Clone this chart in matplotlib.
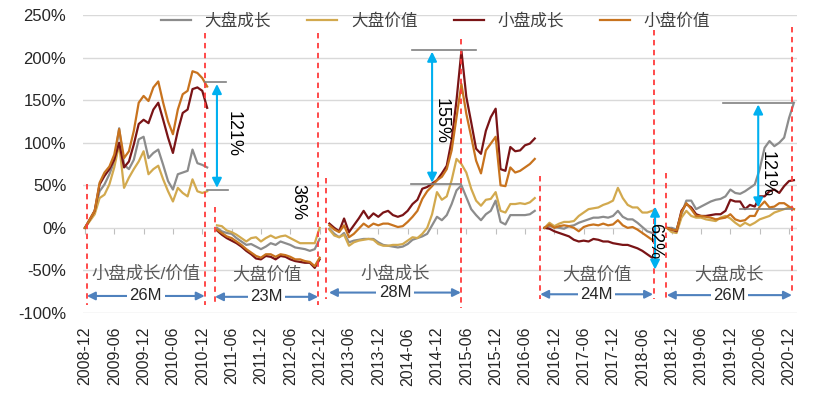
import numpy as np
import pandas as pd
import matplotlib
matplotlib.use('Agg')
import matplotlib.pyplot as plt

plt.rcParams['font.family'] = ['Liberation Sans', 'Noto Sans CJK SC']

# monthly axis, cumulative return (%) restarted in each style period
months = pd.period_range('2008-12', '2021-01', freq='M')
seg_start = ['2008-12', '2011-03', '2013-02', '2016-10', '2018-11']
seg_name = ['小盘成长/价值', '大盘价值', '小盘成长', '大盘价值', '大盘成长']
seg_len = ['26M', '23M', '28M', '24M', '26M']

series_names = ['大盘成长', '大盘价值', '小盘成长', '小盘价值']

big_growth = [
    [0, 9, 20, 43, 51, 63, 78, 117, 74, 69, 80, 104, 107, 82, 88, 92, 74, 55, 45, 63, 65, 67, 92, 76, 74, 71],
    [0, -4, -6, -7, -12, -16, -20, -19, -22, -25, -22, -18, -20, -16, -18, -20, -23, -24, -25, -27, -25, -13],
    [-1, -7, -11, -6, -17, -15, -14, -13, -13, -13, -17, -20, -21, -22, -23, -22, -19, -14, -12, -10,
     -7, 3, 13, 9, 15, 28, 44, 50, 36, 22, 15, 9, 16, 20, 32, 7, 4, 15, 15, 15, 15, 16, 20],
    [0, 2, 1, 0, -1, 2, 3, 6, 8, 10, 12, 12, 13, 12, 14, 20, 13, 10, 10, 6, 1, -4, -6],
    [0, 0, -2, 16, 32, 32, 22, 25, 28, 31, 33, 34, 37, 45, 41, 40, 43, 47, 51, 69, 94, 102, 96, 100, 106, 129, 147],
]
big_value = [
    [0, 8, 16, 35, 39, 51, 71, 98, 47, 59, 69, 78, 90, 63, 69, 73, 57, 43, 31, 47, 41, 37, 57, 43, 41, 43],
    [3, 2, -3, -5, -8, -12, -16, -12, -11, -16, -12, -9, -12, -10, -9, -12, -15, -18, -18, -18, -18, 0],
    [-2, -9, -11, -8, -21, -17, -15, -14, -13, -14, -19, -21, -21, -20, -20, -19, -15, -11, -12, -7,
     0, 16, 42, 33, 37, 56, 81, 75, 65, 46, 32, 26, 33, 34, 42, 20, 18, 28, 28, 29, 28, 30, 35],
    [0, 6, 2, 5, 7, 7, 8, 14, 18, 22, 23, 24, 27, 29, 32, 47, 35, 27, 24, 24, 18, 18, 20],
    [0, -5, -6, 12, 20, 14, 12, 12, 10, 9, 8, 12, 14, 11, 6, 2, 6, 3, 6, 10, 12, 14, 18, 20, 22, 24, 22],
]
small_growth = [
    [0, 10, 20, 51, 61, 69, 80, 100, 71, 78, 98, 122, 127, 123, 139, 147, 127, 106, 88, 114, 135, 139, 163, 165, 161, 141],
    [-3, -8, -12, -15, -18, -22, -27, -31, -36, -37, -33, -34, -37, -33, -34, -37, -39, -40, -41, -41, -47, -37],
    [5, 0, -4, 11, -5, 3, 11, 20, 11, 17, 13, 18, 20, 15, 13, 15, 20, 28, 33, 46,
     48, 52, 56, 64, 73, 103, 150, 208, 154, 124, 93, 87, 114, 130, 140, 69, 67, 95, 90, 91, 97, 99, 105],
    [0, -1, -4, -6, -8, -10, -14, -16, -15, -16, -13, -14, -16, -16, -18, -19, -20, -20, -22, -24, -27, -31, -35],
    [0, -2, -4, 20, 28, 24, 16, 14, 14, 15, 16, 16, 20, 33, 31, 31, 22, 27, 25, 37, 37, 43, 45, 41, 49, 55, 56],
]
small_value = [
    [0, 10, 20, 53, 65, 72, 86, 116, 82, 90, 114, 147, 155, 149, 165, 172, 147, 125, 110, 139, 157, 161, 184, 182, 176, 166],
    [-2, -6, -10, -12, -16, -20, -25, -29, -33, -35, -31, -31, -34, -31, -32, -34, -37, -37, -39, -40, -45, -35],
    [3, -2, -5, 3, -11, -7, -1, 5, 1, 5, 3, 5, 5, 3, 1, 2, 7, 13, 20, 34,
     43, 49, 56, 60, 69, 91, 130, 169, 134, 107, 79, 64, 91, 99, 107, 50, 49, 71, 65, 67, 71, 75, 81],
    [0, 4, 0, 2, 3, 2, 0, -4, 1, 3, 4, 3, 5, 3, 4, 9, 3, 0, 1, -2, -6, -10, -14],
    [0, -2, -3, 18, 29, 22, 14, 14, 13, 12, 10, 11, 12, 16, 10, 8, 9, 14, 14, 25, 31, 24, 25, 29, 29, 25, 22],
]

colors = ['#8C8C8C', '#D2A94E', '#7A1416', '#C8731E']


def full_series(segments):
    y = np.full(len(months), np.nan)
    for start, vals in zip(seg_start, segments):
        i0 = (pd.Period(start, freq='M') - months[0]).n
        y[i0:i0 + len(vals)] = vals
    return y


fig = plt.figure(figsize=(8.33, 3.96), dpi=100)
ax = fig.add_axes([0.0996, 0.2096, 0.857, 0.7524])
x = np.arange(len(months))

for name, segs, c in zip(series_names, [big_growth, big_value, small_growth, small_value], colors):
    ax.plot(x, full_series(segs), color=c, lw=1.6, label=name, zorder=3)

ax.set_ylim(-100, 250)
ax.set_yticks(np.arange(-100, 251, 50))
ax.set_yticklabels([f'{v}%' for v in range(-100, 251, 50)], fontsize=12, color='#262626')
ax.set_xlim(-0.4, 145.6)
tick_idx = np.arange(0, len(months), 6)
ax.set_xticks(tick_idx)
ax.set_xticklabels([months[i].strftime('%Y-%m') for i in tick_idx], rotation=90, fontsize=11.5, color='#262626')
ax.tick_params(axis='both', length=0)
ax.tick_params(axis='x', pad=10)
ax.tick_params(axis='y', pad=12)
ax.grid(axis='y', color='#D9D9D9', lw=1)
ax.set_axisbelow(True)
for s in ax.spines.values():
    s.set_visible(False)

# small tick marks sitting on the 0% line
zero_ax = ax.secondary_xaxis(100 / 350)
zero_ax.set_xticks(tick_idx)
zero_ax.set_xticklabels([])
zero_ax.tick_params(direction='out', length=4, color='#BFBFBF')
zero_ax.spines['bottom'].set_visible(False)

# red dashed period separators
for xm, y0, y1 in [(0.4, 51, -91), (24.5, 229, -91), (26.6, 25, -91), (47.7, 229, -91),
                   (49.3, 58, -84), (76.9, 222, -94), (93.1, 61, -83), (116.4, 233, -83),
                   (118.8, 64, -83), (144.6, 236, -78)]:
    ax.plot([xm, xm], [y0, y1], color='#FF3B3B', lw=1.3, ls=(0, (3, 2.5)), zorder=4)

# period labels and duration arrows
spans = [(0.4, 24.5, -80), (26.6, 47.7, -81), (49.9, 76.9, -76), (93.1, 116.2, -78), (119, 144.6, -79)]
for (x0, x1, ya), nm, ln in zip(spans, seg_name, seg_len):
    ax.annotate('', xy=(x1, ya), xytext=(x0, ya),
                arrowprops=dict(arrowstyle='<|-|>', color='#4F81BD', lw=1.5,
                                mutation_scale=12, shrinkA=0, shrinkB=0), zorder=5)
    ax.text((x0 + x1) / 2, ya, ln, ha='center', va='center', fontsize=12, color='#262626',
            bbox=dict(boxstyle='square,pad=0.15', fc='white', ec='none'), zorder=6)
    ax.text((x0 + x1) / 2, -54, nm, ha='center', va='center', fontsize=12.5, color='#595959', zorder=6)

# spread annotations
gline = dict(color='#808080', lw=1.2, zorder=4)
blue_arrow = dict(arrowstyle='<|-|>', color='#00B0F0', lw=1.5, mutation_scale=14, shrinkA=0, shrinkB=0)

ax.plot([24.5, 28.8], [171, 171], **gline)
ax.plot([25, 29.2], [45, 45], **gline)
ax.annotate('', xy=(27, 169), xytext=(27, 47), arrowprops=blue_arrow, zorder=5)
ax.text(30.3, 110, '121%', rotation=-90, ha='center', va='center', fontsize=13, color='black', zorder=6)

ax.text(43.6, 30, '36%', rotation=-90, ha='center', va='center', fontsize=13, color='black', zorder=6)

ax.plot([66.9, 80], [209, 209], **gline)
ax.plot([66.7, 76.9], [51, 51], **gline)
ax.annotate('', xy=(71, 207), xytext=(71, 53), arrowprops=blue_arrow, zorder=5)
ax.text(72.8, 125, '155%', rotation=-90, ha='center', va='center', fontsize=13, color='black', zorder=6)

ax.annotate('', xy=(116.6, 25), xytext=(116.6, -49), arrowprops=blue_arrow, zorder=5)
ax.text(116.6, -15, '62%', rotation=-90, ha='center', va='center', fontsize=13, color='black', zorder=6)

ax.plot([130.5, 144.8], [147, 147], **gline)
ax.plot([134, 144.6], [22, 22], **gline)
ax.annotate('', xy=(137.7, 145), xytext=(137.7, 24), arrowprops=blue_arrow, zorder=5)
ax.text(139.5, 63, '121%', rotation=-90, ha='center', va='center', fontsize=13, color='black', zorder=6)

fig.legend(loc='center', bbox_to_anchor=(0.523, 0.947), ncol=4, frameon=False, fontsize=12,
           handlelength=1.8, handletextpad=0.8, columnspacing=2.2, labelcolor='#404040')

fig.savefig('out.png', dpi=100)
